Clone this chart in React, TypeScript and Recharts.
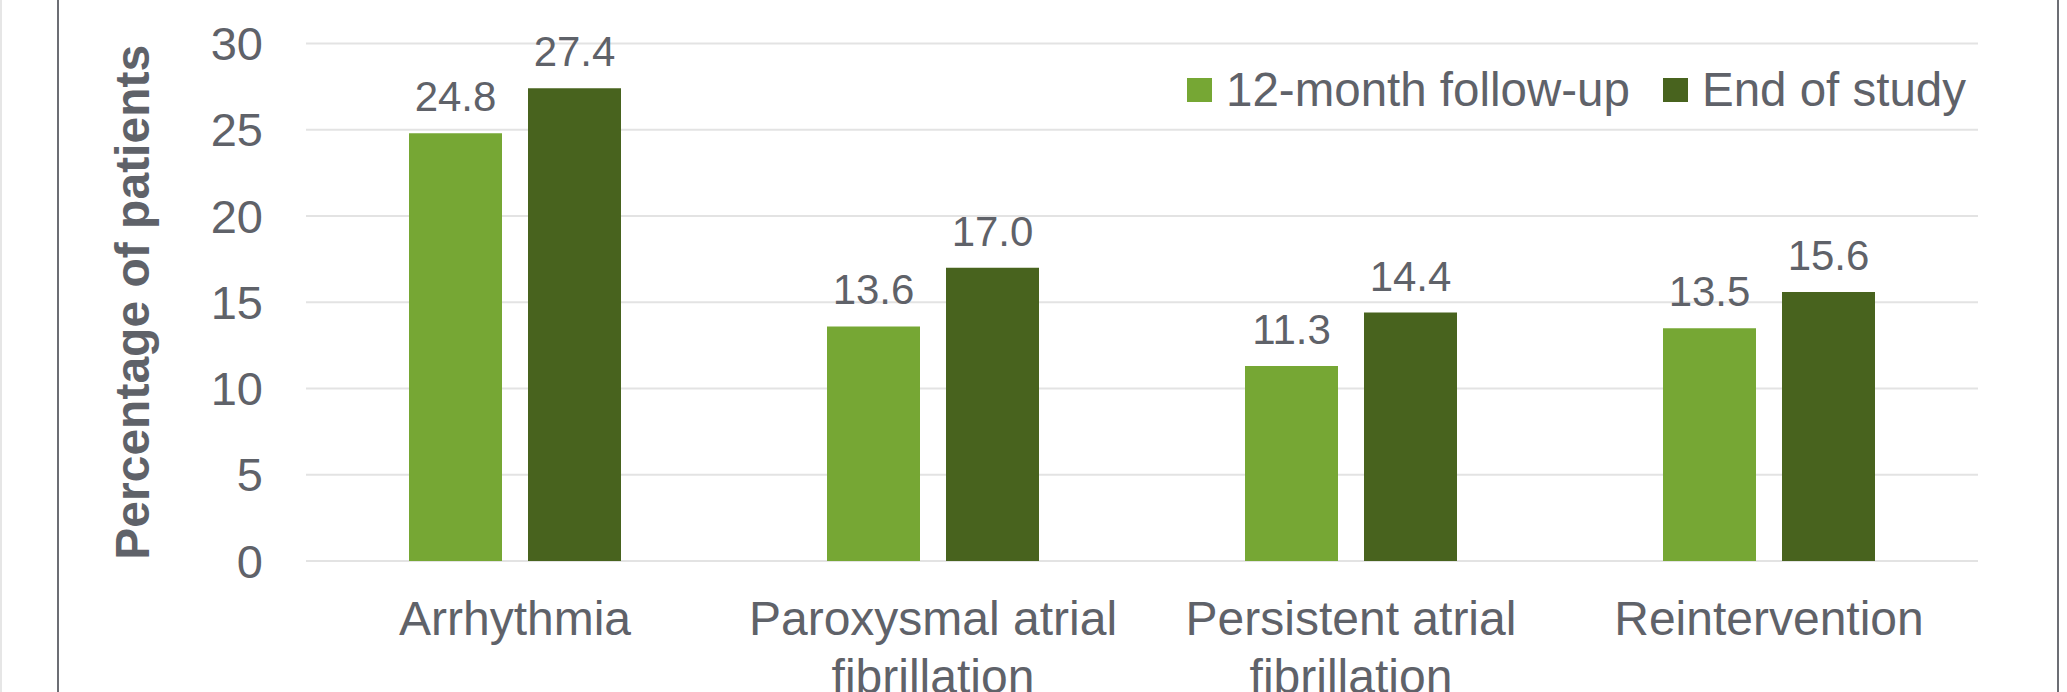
import React from "react";
import {
  Bar,
  BarChart,
  CartesianGrid,
  LabelList,
  Legend,
  XAxis,
  YAxis,
} from "recharts";

const categories = [
  "Arrhythmia",
  "Paroxysmal atrial fibrillation",
  "Persistent atrial fibrillation",
  "Reintervention",
];
const followUp12 = [24.8, 13.6, 11.3, 13.5];
const endOfStudy = [27.4, 17.0, 14.4, 15.6];
const yTicks = [0, 5, 10, 15, 20, 25, 30];

const seriesNames = { followUp12: "12-month follow-up", endOfStudy: "End of study" };

const FONT = "'Liberation Sans', Arial, Helvetica, sans-serif";
const TEXT = "#5f6269";
const LIGHT_GREEN = "#76a734";
const DARK_GREEN = "#48631e";
const FRAME = "#6c6e74";

const data = categories.map((name, i) => ({
  name,
  followUp12: followUp12[i],
  endOfStudy: endOfStudy[i],
}));

// greedy word wrap by character count
function wrapWords(label: string, maxChars: number) {
  const lines: string[] = [];
  let line = "";
  for (const word of label.split(" ")) {
    const next = line ? `${line} ${word}` : word;
    if (next.length > maxChars && line) {
      lines.push(line);
      line = word;
    } else {
      line = next;
    }
  }
  if (line) lines.push(line);
  return lines;
}

function CategoryTick(props: any) {
  const { x, y, payload } = props;
  const lines = wrapWords(String(payload.value), 18);
  return (
    <text
      x={x}
      y={y}
      textAnchor="middle"
      fill={TEXT}
      style={{ fontFamily: FONT, fontSize: 48 }}
    >
      {lines.map((l, i) => (
        <tspan key={i} x={x} dy={i === 0 ? 34 : 58}>
          {l}
        </tspan>
      ))}
    </text>
  );
}

function YTitle(props: any) {
  const vb = props.viewBox || { x: 0, y: 0, width: 0, height: 0 };
  const x = vb.x + 149;
  const y = vb.y + vb.height / 2;
  return (
    <text
      x={x}
      y={y}
      transform={`rotate(-90 ${x} ${y})`}
      textAnchor="middle"
      fill={TEXT}
      style={{ fontFamily: FONT, fontSize: 48, fontWeight: 700 }}
    >
      Percentage of patients
    </text>
  );
}

function LegendBox(props: any) {
  const items = props.payload || [];
  return (
    <div style={{ display: "flex", alignItems: "center", fontFamily: FONT }}>
      {items.map((item: any, i: number) => (
        <div
          key={item.value}
          style={{ display: "flex", alignItems: "center", marginLeft: i === 0 ? 0 : 33 }}
        >
          <span
            style={{ width: 25, height: 24, background: item.color, display: "inline-block", marginRight: 14 }}
          />
          <span style={{ fontSize: 47.5, lineHeight: 1, color: TEXT, whiteSpace: "nowrap" }}>
            {item.value}
          </span>
        </div>
      ))}
    </div>
  );
}

const fmt = (v: any) => Number(v).toFixed(1);

export default function App() {
  return (
    <div
      style={{
        position: "absolute",
        left: 0,
        top: 0,
        width: 2067,
        height: 692,
        background: "#fff",
        overflow: "hidden",
      }}
    >
      {/* frame lines */}
      <div style={{ position: "absolute", left: 0, top: 0, width: 2, height: 692, background: "#e6e6e6" }} />
      <div style={{ position: "absolute", left: 57, top: 0, width: 2, height: 692, background: FRAME }} />
      <div style={{ position: "absolute", left: 2057, top: 0, width: 2, height: 692, background: FRAME }} />
      <BarChart
        width={2067}
        height={692}
        data={data}
        margin={{ top: 43.5, right: 89, bottom: 0, left: 0 }}
        barSize={93}
        barGap={26}
      >
        <CartesianGrid vertical={false} stroke="#e3e3e3" strokeWidth={2} />
        <XAxis
          dataKey="name"
          height={131}
          axisLine={false}
          tickLine={false}
          tickSize={0}
          tickMargin={40}
          interval={0}
          tick={<CategoryTick />}
        />
        <YAxis
          width={306}
          domain={[0, 30]}
          ticks={yTicks}
          axisLine={false}
          tickLine={false}
          tickSize={0}
          tickMargin={43}
          tick={{ fill: TEXT, fontSize: 47, fontFamily: FONT }}
          label={<YTitle />}
        />
        <Legend
          layout="horizontal"
          verticalAlign="middle"
          align="center"
          wrapperStyle={{ top: 66, left: 1187, width: "auto" }}
          content={<LegendBox />}
        />
        <Bar dataKey="followUp12" name={seriesNames.followUp12} fill={LIGHT_GREEN} isAnimationActive={false}>
          <LabelList
            dataKey="followUp12"
            position="top"
            offset={22}
            formatter={fmt}
            fill={TEXT}
            style={{ fontFamily: FONT, fontSize: 42 }}
          />
        </Bar>
        <Bar dataKey="endOfStudy" name={seriesNames.endOfStudy} fill={DARK_GREEN} isAnimationActive={false}>
          <LabelList
            dataKey="endOfStudy"
            position="top"
            offset={22}
            formatter={fmt}
            fill={TEXT}
            style={{ fontFamily: FONT, fontSize: 42 }}
          />
        </Bar>
      </BarChart>
    </div>
  );
}
